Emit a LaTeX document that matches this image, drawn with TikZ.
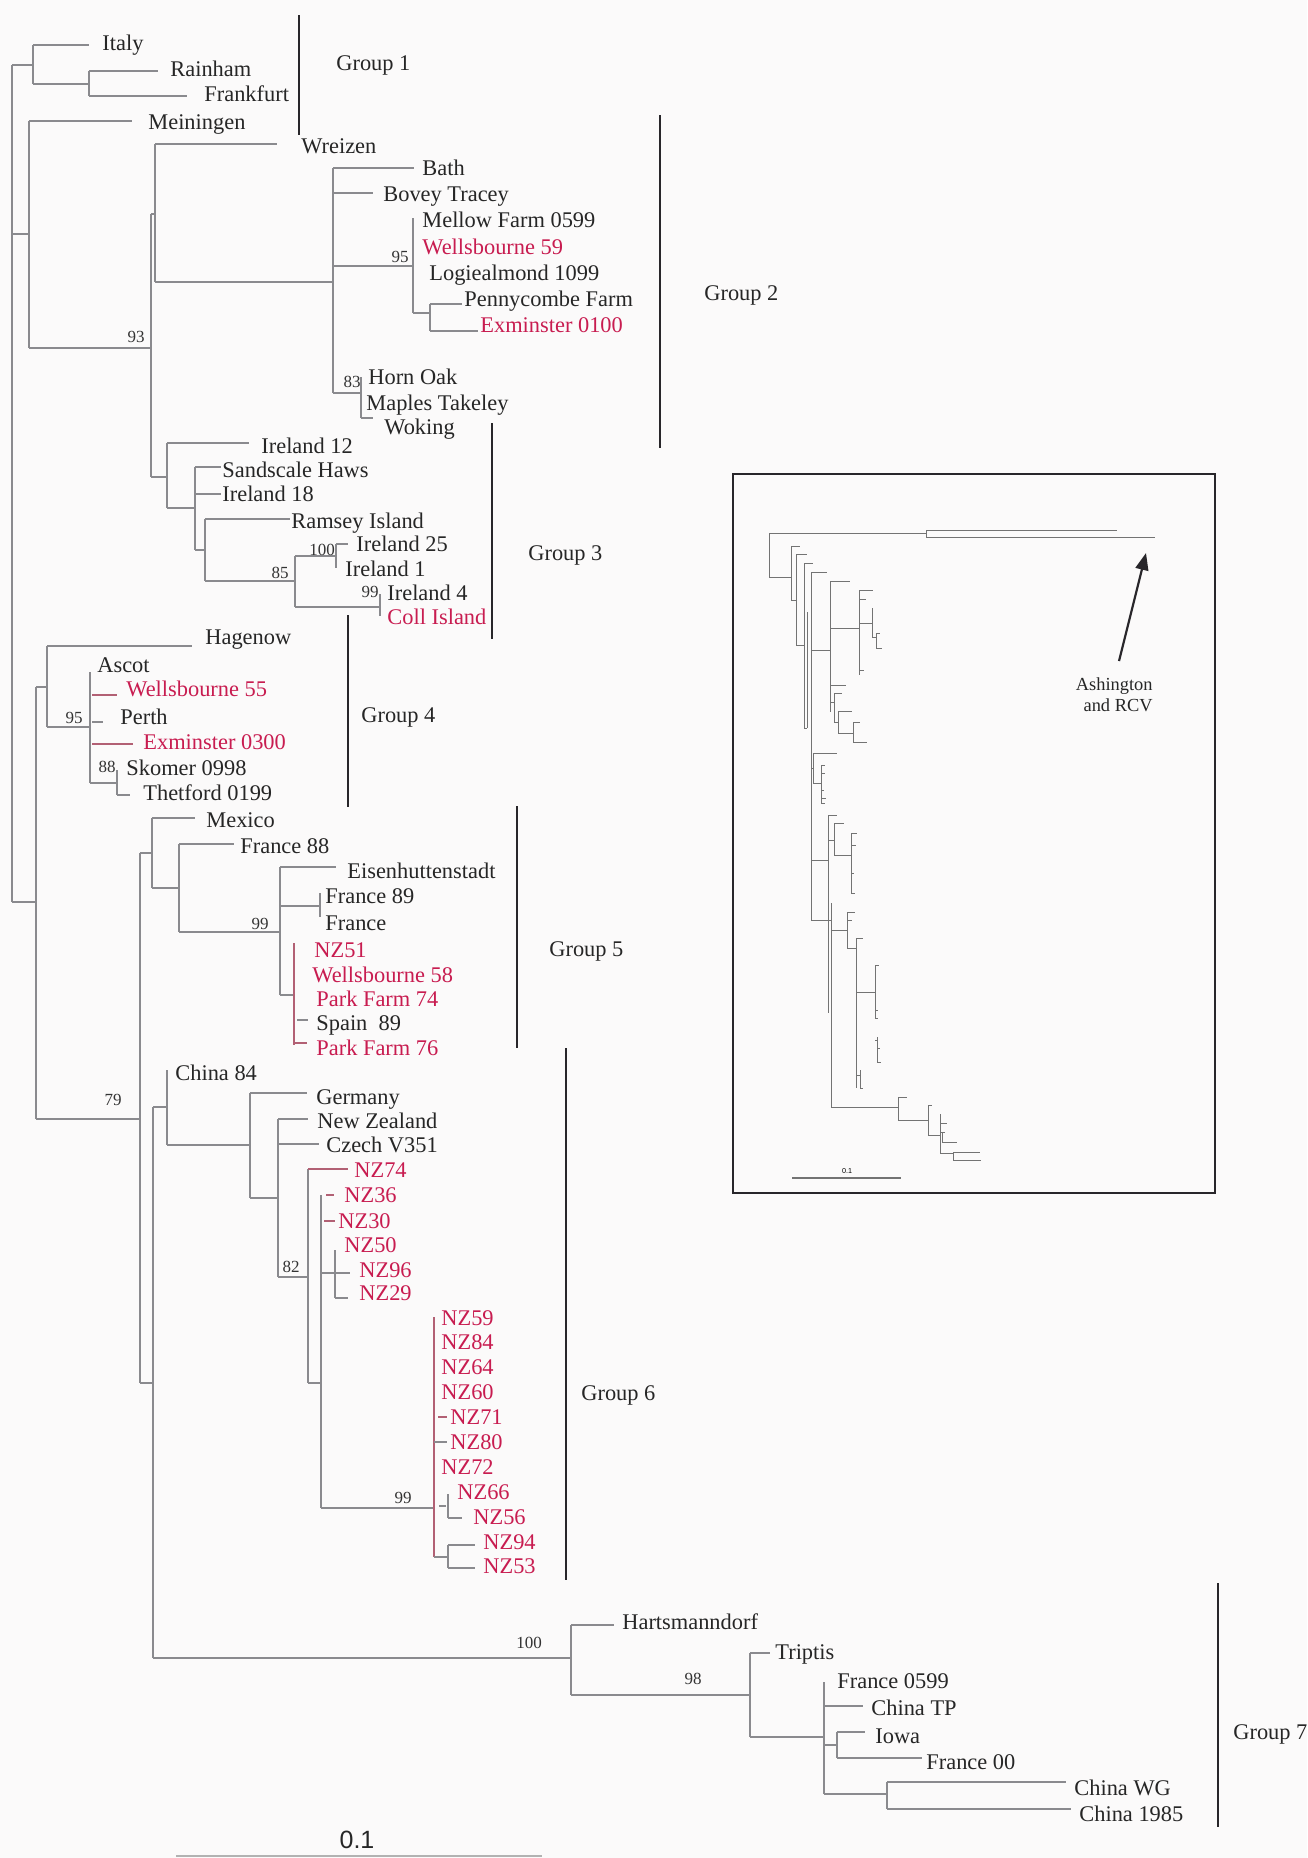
\documentclass[tikz,border=0pt]{standalone}
\usepackage{fontspec}
\setmainfont{Liberation Serif}
\newfontfamily\arialf{Liberation Sans}
\usetikzlibrary{arrows.meta}
\definecolor{labred}{RGB}{200,28,80}
\definecolor{brgray}{RGB}{138,138,142}
\definecolor{brred}{RGB}{178,96,116}
\definecolor{bardark}{RGB}{40,38,42}
\definecolor{bgc}{RGB}{251,250,250}
\newcommand\hbr[4][]{\draw[br,#1] (#2,#4) -- (#3,#4);}
\newcommand\vbr[4][]{\draw[br,#1] (#2,#3) -- (#2,#4);}
\newcommand\hin[3]{\draw[inl] (#1,#3) -- (#2,#3);}
\newcommand\vin[3]{\draw[inl] (#1,#2) -- (#1,#3);}
\tikzset{
 br/.style={draw=brgray, line width=0.65pt},
 brr/.style={draw=brred},
 lab/.style={anchor=base west, inner sep=0pt, yshift=-3.5pt, font=\fontsize{11.2}{13}\selectfont, text=black!85},
 rlab/.style={lab, text=labred},
 supp/.style={anchor=center, inner sep=0pt, font=\fontsize{8.5}{10}\selectfont, text=black!80},
 gbar/.style={draw=bardark, line width=1.1pt},
 inl/.style={draw=black!55, line width=0.45pt},
}
\begin{document}
\begin{tikzpicture}[x=0.5pt,y=-0.5pt]
\useasboundingbox (0,0) rectangle (1307,1858);
\fill[bgc] (0,0) rectangle (1307,1858);
% ---------------- root and Group 1
\vbr{12}{65}{902}
\hbr{12}{33}{65}
\vbr{33}{45}{84}
\hbr{33}{89}{45}
\hbr{33}{89}{84}
\vbr{89}{71}{96}
\hbr{89}{158}{71}
\hbr{89}{187}{96}
% ---------------- Meiningen clade
\hbr{12}{29}{234}
\vbr{29}{121}{348}
\hbr{29}{132}{121}
\hbr{29}{151}{348}
\vbr{151}{214}{477}
\hbr{151}{155}{214}
\vbr{155}{144}{282}
\hbr{155}{277}{144}
\hbr{155}{333}{282}
% Group 2
\vbr{333}{168}{393}
\hbr{333}{414}{168}
\hbr{333}{373}{193}
\hbr{333}{413}{266}
\vbr{413}{218}{313}
\hbr{413}{430}{313}
\vbr{430}{304}{331}
\hbr{430}{462}{304}
\hbr{430}{478}{331}
\hbr{333}{361}{393}
\vbr{361}{377}{418}
\hbr{361}{373}{418}
% Group 3
\hbr{151}{167}{477}
\vbr{167}{443}{508}
\hbr{167}{249}{443}
\hbr{167}{195}{508}
\vbr{195}{467}{550}
\hbr{195}{221}{467}
\hbr{195}{221}{494}
\hbr{195}{205}{550}
\vbr{205}{519}{581}
\hbr{205}{290}{519}
\hbr{205}{295}{581}
\vbr{295}{556}{607}
\hbr{295}{336}{556}
\vbr{336}{544}{568}
\hbr{336}{348}{544}
\hbr{295}{380}{607}
\vbr{380}{594}{616}
% ---------------- Group 4
\hbr{12}{36}{902}
\vbr{36}{687}{1119}
\hbr{36}{47}{687}
\vbr{47}{646}{727}
\hbr{47}{192}{646}
\hbr{47}{90}{727}
\vbr{90}{672}{783}
\hbr[brr]{92}{117}{695}
\hbr{92}{103}{722}
\hbr[brr]{92}{133}{744}
\hbr{90}{117}{783}
\vbr{117}{770}{795}
\hbr{117}{130}{795}
% ---------------- Group 5
\hbr{36}{139}{1119}
\vbr{140}{853}{1383}
\hbr{140}{152}{853}
\vbr{152}{818}{888}
\hbr{152}{195}{818}
\hbr{152}{179}{888}
\vbr{179}{844}{932}
\hbr{179}{234}{844}
\hbr{179}{280}{932}
\vbr{280}{867}{995}
\hbr{280}{336}{867}
\hbr{280}{320}{906}
\vbr{320}{893}{917}
\hbr{280}{294}{995}
\vbr[brr]{294}{943}{1045}
\hbr{297}{308}{1020}
\hbr[brr]{294}{307}{1043}
% ---------------- Group 6
\hbr{140}{153}{1383}
\vbr{153}{1107}{1658}
\hbr{153}{167}{1107}
\vbr{167}{1070}{1145}
\hbr{167}{250}{1145}
\vbr{250}{1093}{1198}
\hbr{250}{307}{1093}
\hbr{250}{278}{1198}
\vbr{278}{1119}{1277}
\hbr{278}{308}{1119}
\hbr{278}{319}{1144}
\hbr{278}{308}{1277}
\vbr{308}{1169}{1383}
\hbr[brr]{308}{348}{1169}
\hbr{308}{321}{1383}
\vbr{321}{1195}{1508}
\hbr[brr]{326}{334}{1195}
\hbr[brr]{324}{335}{1221}
\hbr{321}{350}{1273}
\vbr{335}{1250}{1298}
\hbr{335}{348}{1298}
\hbr{321}{434}{1508}
\vbr[brr]{434}{1317}{1557}
\hbr[brr]{438}{447}{1417}
\hbr{434}{447}{1442}
\hbr{439}{446}{1506}
\vbr{448}{1494}{1518}
\hbr{448}{462}{1518}
\hbr{434}{448}{1557}
\vbr{448}{1545}{1568}
\hbr{448}{475}{1545}
\hbr{448}{475}{1568}
% ---------------- Group 7
\hbr{153}{571}{1658}
\vbr{571}{1625}{1695}
\hbr{571}{614}{1625}
\hbr{571}{750}{1695}
\vbr{750}{1653}{1737}
\hbr{750}{770}{1653}
\hbr{750}{824}{1737}
\vbr{824}{1682}{1794}
\hbr{824}{863}{1706}
\hbr{824}{837}{1745}
\vbr{837}{1732}{1758}
\hbr{837}{865}{1732}
\hbr{837}{922}{1758}
\hbr{824}{887}{1794}
\vbr{887}{1782}{1809}
\hbr{887}{1066}{1782}
\hbr{887}{1071}{1809}
% ---------------- leaf labels
\node[lab] (italy) at (102,43) {Italy};
\node[lab] (rainham) at (170,69) {Rainham};
\node[lab] (frankfurt) at (204,94) {Frankfurt};
\node[lab] (meiningen) at (148,122) {Meiningen};
\node[lab] (wreizen) at (301,146) {Wreizen};
\node[lab] (bath) at (422,168) {Bath};
\node[lab] (bovey) at (383,194) {Bovey Tracey};
\node[lab] (mellow) at (422,220) {Mellow Farm 0599};
\node[rlab] (wells59) at (422,247) {Wellsbourne 59};
\node[lab] (logie) at (429,273) {Logiealmond 1099};
\node[lab] (penny) at (464,299) {Pennycombe Farm};
\node[rlab] (exm0100) at (480,325) {Exminster 0100};
\node[lab] (hornoak) at (368,377) {Horn Oak};
\node[lab] (maples) at (366,403) {Maples Takeley};
\node[lab] (woking) at (384,427) {Woking};
\node[lab] (irl12) at (261,446) {Ireland 12};
\node[lab] (sandscale) at (222,470) {Sandscale Haws};
\node[lab] (irl18) at (222,494) {Ireland 18};
\node[lab] (ramsey) at (291,521) {Ramsey Island};
\node[lab] (irl25) at (356,544) {Ireland 25};
\node[lab] (irl1) at (345,569) {Ireland 1};
\node[lab] (irl4) at (387,593) {Ireland 4};
\node[rlab] (coll) at (387,617) {Coll Island};
\node[lab] (hagenow) at (205,637) {Hagenow};
\node[lab] (ascot) at (97,665) {Ascot};
\node[rlab] (wells55) at (126,689) {Wellsbourne 55};
\node[lab] (perth) at (120,717) {Perth};
\node[rlab] (exm0300) at (143,742) {Exminster 0300};
\node[lab] (skomer) at (126,768) {Skomer 0998};
\node[lab] (thetford) at (143,793) {Thetford 0199};
\node[lab] (mexico) at (206,820) {Mexico};
\node[lab] (france88) at (240,846) {France 88};
\node[lab] (eisen) at (347,871) {Eisenhuttenstadt};
\node[lab] (france89) at (325,896) {France 89};
\node[lab] (france) at (325,923) {France};
\node[rlab] (nz51) at (314,950) {NZ51};
\node[rlab] (wells58) at (312,975) {Wellsbourne 58};
\node[rlab] (pf74) at (316,999) {Park Farm 74};
\node[lab] (spain) at (316,1023) {Spain\ \ 89};
\node[rlab] (pf76) at (316,1048) {Park Farm 76};
\node[lab] (china84) at (175,1073) {China 84};
\node[lab] (germany) at (316,1097) {Germany};
\node[lab] (newzealand) at (317,1121) {New Zealand};
\node[lab] (czech) at (326,1145) {Czech V351};
\node[rlab] (nz74) at (354,1170) {NZ74};
\node[rlab] (nz36) at (344,1195) {NZ36};
\node[rlab] (nz30) at (338,1221) {NZ30};
\node[rlab] (nz50) at (344,1245) {NZ50};
\node[rlab] (nz96) at (359,1270) {NZ96};
\node[rlab] (nz29) at (359,1293) {NZ29};
\node[rlab] (nz59) at (441,1318) {NZ59};
\node[rlab] (nz84) at (441,1342) {NZ84};
\node[rlab] (nz64) at (441,1367) {NZ64};
\node[rlab] (nz60) at (441,1392) {NZ60};
\node[rlab] (nz71) at (450,1417) {NZ71};
\node[rlab] (nz80) at (450,1442) {NZ80};
\node[rlab] (nz72) at (441,1467) {NZ72};
\node[rlab] (nz66) at (457,1492) {NZ66};
\node[rlab] (nz56) at (473,1517) {NZ56};
\node[rlab] (nz94) at (483,1542) {NZ94};
\node[rlab] (nz53) at (483,1566) {NZ53};
\node[lab] (harts) at (622,1622) {Hartsmanndorf};
\node[lab] (triptis) at (775,1652) {Triptis};
\node[lab] (france0599) at (837,1681) {France 0599};
\node[lab] (chinatp) at (871,1708) {China TP};
\node[lab] (iowa) at (875,1736) {Iowa};
\node[lab] (france00) at (926,1762) {France 00};
\node[lab] (chinawg) at (1074,1788) {China WG};
\node[lab] (china1985) at (1079,1814) {China 1985};
% ---------------- support values
\node[supp] (s93) at (136,337) {93};
\node[supp] (s95a) at (400,257) {95};
\node[supp] (s83) at (352,382) {83};
\node[supp] (s100a) at (322,550) {100};
\node[supp] (s85) at (280,573) {85};
\node[supp] (s99a) at (370,592) {99};
\node[supp] (s95b) at (74,718) {95};
\node[supp] (s88) at (107,767) {88};
\node[supp] (s99b) at (260,924) {99};
\node[supp] (s79) at (113,1100) {79};
\node[supp] (s82) at (291,1267) {82};
\node[supp] (s99c) at (403,1498) {99};
\node[supp] (s100b) at (529,1643) {100};
\node[supp] (s98) at (693,1679) {98};
% ---------------- group bars
\draw[gbar] (299,15) -- (299,135);
\node[lab] (g1) at (336,63) {Group 1};
\draw[gbar] (660,115) -- (660,448);
\node[lab] (g2) at (704,293) {Group 2};
\draw[gbar] (492,423) -- (492,639);
\node[lab] (g3) at (528,553) {Group 3};
\draw[gbar] (348,615) -- (348,807);
\node[lab] (g4) at (361,715) {Group 4};
\draw[gbar] (517,806) -- (517,1048);
\node[lab] (g5) at (549,949) {Group 5};
\draw[gbar] (566,1048) -- (566,1580);
\node[lab] (g6) at (581,1393) {Group 6};
\draw[gbar] (1218,1583) -- (1218,1827);
\node[lab] (g7) at (1233,1732) {Group 7};
% ---------------- scale bar
\draw[draw=black!30, line width=0.9pt] (176,1856) -- (542,1856);
\node[font=\arialf\fontsize{12.5}{14}\selectfont, inner sep=0pt, text=black!85] (scale) at (357,1840) {0.1};
% ---------------- inset
\draw[draw=bardark, line width=1pt] (733,474) rectangle (1215,1193);
\vin{769}{533}{577}
\hin{769}{926}{533}
\vin{926}{530}{537}
\hin{926}{1117}{530}
\hin{926}{1155}{537}
\hin{769}{791}{577}
\vin{791}{546}{600} \hin{791}{800}{546}
\hin{791}{796}{600} \vin{796}{554}{645} \hin{796}{807}{554}
\hin{796}{804}{645} \vin{804}{563}{728} \hin{804}{813}{563}
\vin{807}{612}{728} \hin{804}{807}{728}
\vin{811}{572}{920} \hin{811}{827}{572}
\hin{811}{830}{650}
\vin{830}{581}{712} \hin{830}{850}{581}
\hin{830}{859}{628}
\vin{859}{590}{675} \hin{859}{873}{590} \hin{859}{866}{599} \hin{859}{872}{623}
\vin{872}{608}{637} \hin{872}{876}{637}
\vin{876}{633}{648} \hin{876}{880}{633} \hin{876}{882}{648}
\hin{859}{864}{670}
\hin{830}{846}{685}
\hin{830}{834}{702} \vin{834}{693}{722} \hin{834}{842}{693} \hin{834}{838}{722}
\vin{838}{711}{733} \hin{838}{852}{711} \hin{838}{853}{733}
\vin{853}{722}{742} \hin{853}{860}{722} \hin{853}{867}{742}
\hin{811}{813}{768} \vin{813}{753}{783} \hin{813}{837}{753} \hin{813}{821}{783}
\vin{821}{765}{803} \hin{821}{825}{765} \hin{821}{825}{773} \hin{821}{824}{790} \hin{821}{826}{798} \hin{821}{825}{803}
\hin{811}{828}{860} \vin{828}{815}{1013} \hin{828}{837}{815}
\hin{828}{834}{840} \vin{834}{823}{855} \hin{834}{844}{823} \hin{834}{851}{855}
\vin{851}{833}{893} \hin{851}{857}{833} \hin{851}{856}{845} \hin{851}{854}{873} \hin{851}{855}{893}
\hin{811}{831}{920} \vin{831}{903}{1107} \hin{831}{898}{1107}
\hin{831}{847}{930} \vin{847}{912}{948} \hin{847}{855}{912} \hin{847}{852}{920} \hin{847}{856}{948}
\vin{856}{938}{1088} \hin{856}{863}{938} \hin{856}{875}{992}
\vin{875}{965}{1018} \hin{875}{879}{965} \hin{875}{878}{1010} \hin{875}{878}{1018}
\vin{877}{1037}{1062} \hin{875}{877}{1040} \hin{877}{880}{1048} \hin{877}{881}{1062}
\hin{856}{860}{1075} \vin{860}{1070}{1088} \hin{860}{863}{1088}
\vin{898}{1097}{1120} \hin{898}{907}{1097} \hin{898}{928}{1120}
\vin{928}{1105}{1135} \hin{928}{932}{1105} \hin{928}{940}{1135}
\vin{940}{1114}{1153} \hin{940}{947}{1123} \hin{940}{945}{1132}
\vin{942}{1132}{1142} \hin{942}{957}{1142} \hin{940}{953}{1153}
\vin{953}{1152}{1160} \hin{953}{980}{1152} \hin{953}{981}{1160}
\draw[inl, line width=0.6pt] (792,1178) -- (901,1178);
\node[font=\arialf\fontsize{3.6}{4}\selectfont, inner sep=0pt] (iscale) at (847,1171) {0.1};
\node[anchor=north east, align=right, inner sep=0pt, font=\fontsize{9.2}{10.6}\selectfont, text=black!85] (ash) at (1153,677) {Ashington\\and RCV};
\coordinate (arrtail) at (1119,661);
\coordinate (arrtip) at (1146,553);
\draw[draw=bardark, line width=1.1pt, -{Triangle[length=8.5pt,width=6.5pt]}] (arrtail) -- (arrtip);
\end{tikzpicture}
\end{document}
